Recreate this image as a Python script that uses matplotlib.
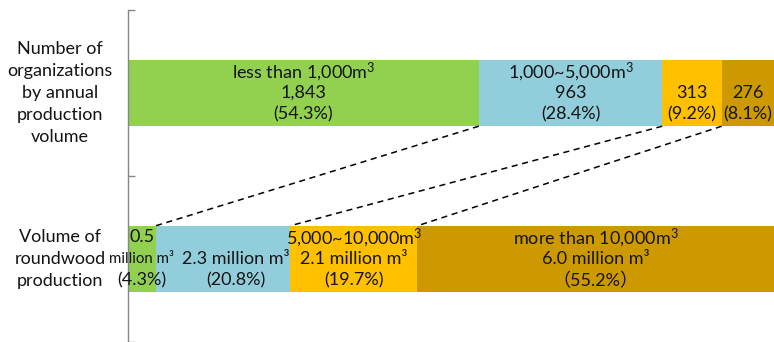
import matplotlib.pyplot as plt

# data
size_classes = ["less than 1,000m³", "1,000~5,000m³", "5,000~10,000m³", "more than 10,000m³"]
org_counts = [1843, 963, 313, 276]
org_share = [54.3, 28.4, 9.2, 8.1]
volume_mil = [0.5, 2.3, 2.1, 6.0]
volume_share = [4.3, 20.8, 19.7, 55.2]
row_labels = ["Number of\norganizations\nby annual\nproduction\nvolume",
              "Volume of\nroundwood\nproduction"]
colors = ["#92D050", "#92CDDC", "#FFC000", "#CC9900"]

plt.rcParams['font.family'] = ['Lato', 'Noto Sans CJK JP', 'DejaVu Sans']
plt.rcParams['mathtext.fontset'] = 'custom'
plt.rcParams['mathtext.rm'] = 'Lato'
plt.rcParams['mathtext.it'] = 'Lato'
txt_color = "#141414"
fs = 13

fig = plt.figure(figsize=(7.74, 3.42), dpi=100)
ax = fig.add_axes([128 / 774, 0, 1 - 128 / 774, 332 / 342])

y_org, y_vol = 1, 0
bar_h = 0.4

# stacked bars
left_org = 0
left_vol = 0
cum_org = []
cum_vol = []
for i in range(len(size_classes)):
    ax.barh(y_org, org_share[i], left=left_org, height=bar_h, color=colors[i], edgecolor="none")
    ax.barh(y_vol, volume_share[i], left=left_vol, height=bar_h, color=colors[i], edgecolor="none")
    left_org += org_share[i]
    left_vol += volume_share[i]
    cum_org.append(left_org)
    cum_vol.append(left_vol)

# dashed connectors between the segment boundaries
for i in range(len(size_classes) - 1):
    ax.plot([cum_org[i], cum_vol[i]], [y_org - bar_h / 2, y_vol + bar_h / 2],
            color="black", lw=1.1, dashes=(4, 3))

# size class names with a proper superscript
cls = [c.replace("m³", r"m$\mathregular{^3}$") for c in size_classes]

# segment labels, 3 line slots per bar
org_lines = [
    [cls[0], f"{org_counts[0]:,}", f"({org_share[0]}%)"],
    [cls[1], f"{org_counts[1]:,}", f"({org_share[1]}%)"],
    ["", f"{org_counts[2]:,}", f"({org_share[2]}%)"],
    ["", f"{org_counts[3]:,}", f"({org_share[3]}%)"],
]
vol_lines = [
    [f"{volume_mil[0]}", "million m³", f"({volume_share[0]}%)"],
    ["", f"{volume_mil[1]} million m³", f"({volume_share[1]}%)"],
    [cls[2], f"{volume_mil[2]} million m³", f"({volume_share[2]}%)"],
    [cls[3], f"{volume_mil[3]} million m³", f"（{volume_share[3]}%）"],
]
line_step = 15.5  # points

def put_lines(lines, left, width, y, small_mid=False, dx=0):
    xc = left + width / 2
    for k, s in enumerate(lines):
        if not s:
            continue
        size = fs
        if small_mid and k == 1:
            size = fs - 2.2
        ax.annotate(s, (xc, y), xytext=(dx, (1 - k) * line_step), textcoords="offset points",
                    ha="center", va="center", fontsize=size, color=txt_color)

starts_org = [0] + cum_org[:-1]
starts_vol = [0] + cum_vol[:-1]
for i in range(len(size_classes)):
    put_lines(org_lines[i], starts_org[i], org_share[i], y_org)
    # the 2nd volume label sits a bit right of its segment centre in the original
    put_lines(vol_lines[i], starts_vol[i], volume_share[i], y_vol,
              small_mid=(i == 0), dx=(9 if i == 1 else 0))

# row labels on the left
for y, lab in zip([y_org, y_vol], row_labels):
    ax.text(-68 / 646 * 100, y, lab, ha="center", va="center", fontsize=fs,
            color=txt_color, linespacing=1.45)

ax.set_xlim(0, 100)
ax.set_ylim(-0.5, 1.5)
ax.set_xticks([])
ax.set_yticks([-0.5, 0.5, 1.5])
ax.set_yticklabels([])
ax.tick_params(axis="y", direction="in", length=5, color="#868686", width=1)
for side in ["top", "right", "bottom"]:
    ax.spines[side].set_visible(False)
ax.spines["left"].set_color("#868686")
ax.spines["left"].set_linewidth(1)

fig.savefig("out.png", dpi=100)
